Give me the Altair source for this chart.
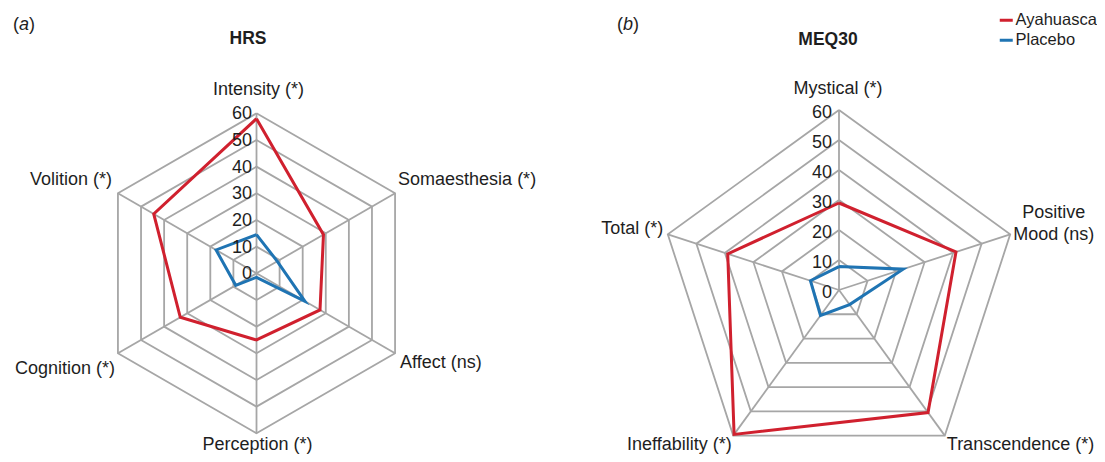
import math
import altair as alt
import pandas as pd

# ---------------- data ----------------
HRS_AXES = ["Intensity (*)", "Somaesthesia (*)", "Affect (ns)", "Perception (*)", "Cognition (*)", "Volition (*)"]
HRS_AYA = [58, 29, 27.5, 25, 33, 44.5]
HRS_PLA = [14.5, 9, 21, 1.5, 9, 17.5]

MEQ_AXES = ["Mystical (*)", "Positive Mood (ns)", "Transcendence (*)", "Ineffability (*)", "Total (*)"]
MEQ_AYA = [29, 41, 50.5, 59.5, 39]
MEQ_PLA = [7.8, 22.5, 6, 10.5, 10]

TICKS = [0, 10, 20, 30, 40, 50, 60]
SERIES = ["Ayahuasca", "Placebo"]

# ---------------- style ----------------
RED = "#D0202E"
BLUE = "#1F74B3"
GRID = "#A6A6A6"
TXT = "#1E1E1E"
FONT = "Liberation Sans"
FS = 18
H = 446


def ang(i, n):
    return math.radians(90 - i * 360.0 / n)


def panel(axes, aya, pla, W, cx, cy, k, label_specs, tick_dx, tick_dy, annotations, show_legend):
    n = len(axes)
    rmax = TICKS[-1]
    xs = alt.Scale(domain=[-cx / k, (W - cx) / k], nice=False, zero=False)
    ys = alt.Scale(domain=[-(H - cy) / k, cy / k], nice=False, zero=False)
    X = lambda f: alt.X(f, scale=xs, axis=None)
    Y = lambda f: alt.Y(f, scale=ys, axis=None)

    # rings
    rows = []
    for t in TICKS[1:]:
        for j in range(n + 1):
            a = ang(j % n, n)
            rows.append(dict(ring=t, o=j, x=t * math.cos(a), y=t * math.sin(a)))
    rings = alt.Chart(pd.DataFrame(rows)).mark_line(color=GRID, strokeWidth=1.8).encode(
        x=X("x:Q"), y=Y("y:Q"), detail="ring:N", order="o:Q")

    # spokes
    sp = pd.DataFrame([dict(x=0.0, y=0.0, x2=rmax * math.cos(ang(i, n)), y2=rmax * math.sin(ang(i, n)))
                       for i in range(n)])
    spokes = alt.Chart(sp).mark_rule(color=GRID, strokeWidth=1.8).encode(
        x=X("x:Q"), y=Y("y:Q"), x2="x2:Q", y2="y2:Q")

    # series polygons
    rows = []
    for s, vals in zip(SERIES, [aya, pla]):
        for j in range(n + 1):
            i = j % n
            a = ang(i, n)
            rows.append(dict(series=s, o=j, axis=axes[i], v=vals[i],
                             x=vals[i] * math.cos(a), y=vals[i] * math.sin(a)))
    if show_legend:
        leg = alt.Legend(title=None, orient="none", legendX=438, legendY=4, symbolType="stroke",
                         symbolSize=169, symbolStrokeWidth=3, labelFont=FONT, labelFontSize=16.5,
                         labelColor=TXT, labelOffset=1, rowPadding=3, padding=0)
    else:
        leg = None
    color = alt.Color("series:N", scale=alt.Scale(domain=SERIES, range=[RED, BLUE]), legend=leg)
    lines = alt.Chart(pd.DataFrame(rows)).mark_line(strokeWidth=3, strokeJoin="miter").encode(
        x=X("x:Q"), y=Y("y:Q"), color=color, order="o:Q")

    # tick labels
    tk = pd.DataFrame(dict(t=TICKS, x=[0.0] * len(TICKS), y=TICKS))
    ticks = alt.Chart(tk).mark_text(align="right", baseline="middle", dx=tick_dx, dy=tick_dy,
                                    font=FONT, fontSize=FS, color=TXT).encode(
        x=X("x:Q"), y=Y("y:Q"), text="t:Q")

    layers = [rings, spokes, lines, ticks]

    # axis labels
    for (i, text, align, dx, dy) in label_specs:
        a = ang(i, n)
        d = pd.DataFrame(dict(lab=[text], x=[rmax * math.cos(a)], y=[rmax * math.sin(a)]))
        layers.append(alt.Chart(d).mark_text(align=align, baseline="alphabetic", dx=dx, dy=dy,
                                             font=FONT, fontSize=FS, color=TXT).encode(
            x=X("x:Q"), y=Y("y:Q"), text="lab:N"))

    # titles / panel letters
    for (text, px, py, align, weight, style, size) in annotations:
        d = pd.DataFrame(dict(lab=[text]))
        layers.append(alt.Chart(d).mark_text(align=align, baseline="alphabetic", font=FONT,
                                             fontSize=size, fontWeight=weight, fontStyle=style,
                                             color=TXT).encode(
            x=alt.value(px), y=alt.value(py), text="lab:N"))

    return alt.layer(*layers).properties(width=W, height=H)


left = panel(
    HRS_AXES, HRS_AYA, HRS_PLA, W=552, cx=248.5, cy=265.3, k=160 / 60,
    label_specs=[
        (0, "Intensity (*)", "center", 2, -18.3),
        (1, "Somaesthesia (*)", "left", 3, -8.3),
        (2, "Affect (ns)", "left", 5, 14.7),
        (3, "Perception (*)", "center", 1, 16.5),
        (4, "Cognition (*)", "right", -3, 20.7),
        (5, "Volition (*)", "right", -6, -8.3),
    ],
    tick_dx=-4.5, tick_dy=1,
    annotations=[
        ("(", 5, 21.5, "left", "normal", "normal", FS),
        ("a", 11, 21.5, "left", "normal", "italic", FS),
        (")", 21, 21.5, "left", "normal", "normal", FS),
        ("HRS", 240, 36, "center", "bold", "normal", 17.5),
    ],
    show_legend=False,
)

right = panel(
    MEQ_AXES, MEQ_AYA, MEQ_PLA, W=537, cx=279, cy=282, k=3.0,
    label_specs=[
        (0, "Mystical (*)", "center", -1, -16),
        (1, "Positive", "center", 43.5, -16.4),
        (1, "Mood (ns)", "center", 43.5, 5.6),
        (2, "Transcendence (*)", "left", 2, 14.2),
        (3, "Ineffability (*)", "right", -1.5, 14.2),
        (4, "Total (*)", "right", -4.5, -0.4),
    ],
    tick_dx=-7, tick_dy=3,
    annotations=[
        ("(", 57, 21.5, "left", "normal", "normal", FS),
        ("b", 63, 21.5, "left", "normal", "italic", FS),
        (")", 73, 21.5, "left", "normal", "normal", FS),
        ("MEQ30", 268, 37, "center", "bold", "normal", 17.5),
    ],
    show_legend=True,
)

chart = alt.hconcat(left, right, spacing=0).resolve_scale(color="independent").properties(
    padding=0
).configure_view(stroke=None)

chart.save("out.html", embed_options={"renderer": "svg", "actions": False})
